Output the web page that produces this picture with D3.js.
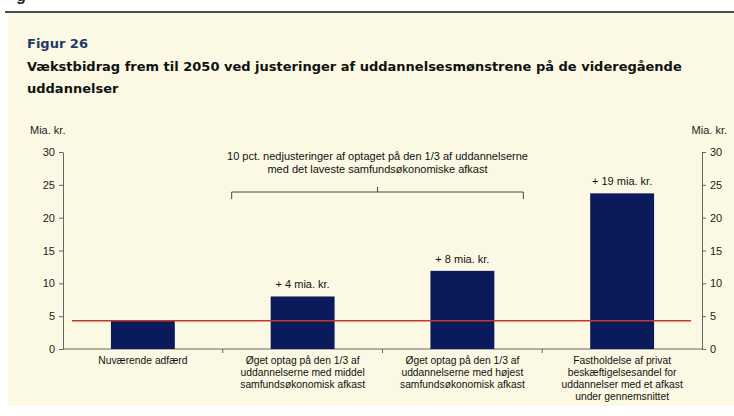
<!DOCTYPE html>
<html>
<head>
<meta charset="utf-8">
<script src="https://cdn.jsdelivr.net/npm/d3@7"></script>
<style>
  body { margin: 0; background: #fff; }
  svg { display: block; font-family: "Liberation Sans", Arial, sans-serif; }
</style>
</head>
<body>
<div id="chart"></div>
<script>
// bar chart with reference line, two mirrored y axes

const W = 734, H = 416;

const categories = [
  ["Nuværende adfærd"],
  ["Øget optag på den 1/3 af", "uddannelserne med middel", "samfundsøkonomisk afkast"],
  ["Øget optag på den 1/3 af", "uddannelserne med højest", "samfundsøkonomisk afkast"],
  ["Fastholdelse af privat", "beskæftigelsesandel for", "uddannelser med et afkast", "under gennemsnittet"]
];
const values = [4.3, 8.0, 11.9, 23.7];
const barLabels = ["", "+ 4 mia. kr.", "+ 8 mia. kr.", "+ 19 mia. kr."];
const baseline = 4.3;
const yTicks = [0, 5, 10, 15, 20, 25, 30];
const bracketText = [
  "10 pct. nedjusteringer af optaget på den 1/3 af uddannelserne",
  "med det laveste samfundsøkonomiske afkast"
];

const svg = d3.select('#chart').append('svg')
  .attr('width', W)
  .attr('height', H);

// page background
svg.append('rect')
  .attr('x', 8).attr('y', 13)
  .attr('width', W - 8).attr('height', 393)
  .attr('fill', '#fbf9e3');

svg.append('line')
  .attr('x1', 5).attr('x2', W)
  .attr('y1', 12).attr('y2', 12)
  .attr('stroke', '#111').attr('stroke-width', 1.5);

// bit of previous heading cut at the top
svg.append('text')
  .attr('x', 16).attr('y', 1)
  .attr('font-size', 16).attr('font-weight', 'bold')
  .attr('fill', '#222')
  .text('g');

const headFont = '"DejaVu Sans", Verdana, sans-serif';

svg.append('text')
  .attr('x', 27).attr('y', 48)
  .attr('font-size', 13).attr('font-weight', 'bold')
  .attr('font-family', headFont)
  .attr('fill', '#1f3a68')
  .text('Figur 26');

const titleLines = [
  "Vækstbidrag frem til 2050 ved justeringer af uddannelsesmønstrene på de videregående",
  "uddannelser"
];
svg.selectAll('.title')
  .data(titleLines)
  .enter().append('text')
  .attr('class', 'title')
  .attr('x', 27)
  .attr('y', (d, i) => 71 + i * 22)
  .attr('font-size', 13).attr('font-weight', 'bold')
  .attr('font-family', headFont)
  .attr('fill', '#111')
  .text(d => d);

const x = d3.scaleBand()
  .domain(categories.map((d, i) => i))
  .range([63, 702])
  .paddingInner(0.6)
  .paddingOuter(0.3);

const y = d3.scaleLinear()
  .domain([0, 30])
  .range([349, 152]);

const axisColor = '#666';

const left = svg.append('g')
  .attr('transform', 'translate(63,0)')
  .call(d3.axisLeft(y).tickValues(yTicks).tickSize(4).tickSizeOuter(0).tickPadding(4));
const right = svg.append('g')
  .attr('transform', 'translate(702,0)')
  .call(d3.axisRight(y).tickValues(yTicks).tickSize(4).tickSizeOuter(0).tickPadding(4));

[left, right].forEach(g => {
  g.selectAll('path, line').attr('stroke', axisColor);
  g.selectAll('text').attr('font-size', 11).attr('fill', '#222')
    .style('font-family', '"Liberation Sans", Arial, sans-serif');
});

// x axis line with separators between categories
svg.append('line')
  .attr('x1', 63).attr('x2', 702)
  .attr('y1', y(0)).attr('y2', y(0))
  .attr('stroke', axisColor);
const gap = x.step() * x.paddingInner() / 2;
svg.selectAll('.sep')
  .data(categories.slice(1).map((d, i) => i + 1))
  .enter().append('line')
  .attr('x1', d => x(d) - gap).attr('x2', d => x(d) - gap)
  .attr('y1', y(0)).attr('y2', y(0) + 4)
  .attr('stroke', axisColor);

svg.append('text').attr('x', 30).attr('y', 134)
  .attr('font-size', 11).attr('fill', '#222').text('Mia. kr.');
svg.append('text').attr('x', 727).attr('y', 134)
  .attr('text-anchor', 'end')
  .attr('font-size', 11).attr('fill', '#222').text('Mia. kr.');

svg.selectAll('.bar')
  .data(values)
  .enter().append('rect')
  .attr('class', 'bar')
  .attr('x', (d, i) => x(i))
  .attr('y', d => y(d))
  .attr('width', x.bandwidth())
  .attr('height', d => y(0) - y(d))
  .attr('fill', '#0a1a5a');

svg.append('line')
  .attr('x1', 72).attr('x2', 691)
  .attr('y1', y(baseline)).attr('y2', y(baseline))
  .attr('stroke', '#c0392b').attr('stroke-width', 1.3);

svg.selectAll('.vlabel')
  .data(values)
  .enter().append('text')
  .attr('x', (d, i) => x(i) + x.bandwidth() / 2)
  .attr('y', d => y(d) - 8)
  .attr('text-anchor', 'middle')
  .attr('font-size', 11).attr('fill', '#111')
  .text((d, i) => barLabels[i]);

// category labels
const cat = svg.selectAll('.cat')
  .data(categories)
  .enter().append('text')
  .attr('text-anchor', 'middle')
  .attr('font-size', 10.3).attr('fill', '#111');
cat.selectAll('tspan')
  .data((d, i) => d.map(line => ({ line, i })))
  .enter().append('tspan')
  .attr('x', d => x(d.i) + x.bandwidth() / 2)
  .attr('y', (d, j) => 364 + j * 12)
  .text(d => d.line);

// bracket over bars 2 and 3
const bx1 = x(1) - 39, bx2 = x(2) + x.bandwidth() + 29;
const bmid = (bx1 + bx2) / 2, by = 192;
svg.append('path')
  .attr('d', `M${bx1},${by + 7} L${bx1},${by} L${bx2},${by} L${bx2},${by + 7} M${bmid},${by} L${bmid},${by - 5}`)
  .attr('fill', 'none')
  .attr('stroke', '#444');

svg.selectAll('.btext')
  .data(bracketText)
  .enter().append('text')
  .attr('x', bmid)
  .attr('y', (d, i) => 160 + i * 13)
  .attr('text-anchor', 'middle')
  .attr('font-size', 11).attr('fill', '#111')
  .text(d => d);
</script>
</body>
</html>
